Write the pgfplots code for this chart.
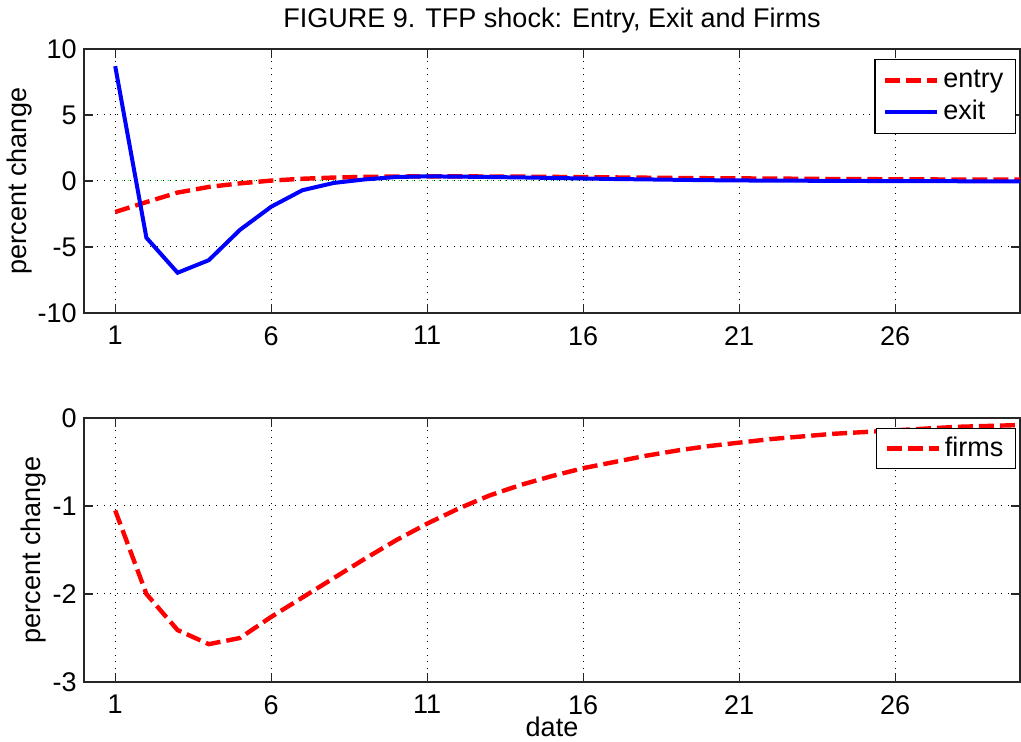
\documentclass[border=0pt]{standalone}
\usepackage{pgfplots}
\pgfplotsset{compat=1.18}
\usepackage{fontspec}
\setmainfont{Liberation Sans}
\definecolor{mred}{RGB}{255,0,0}
\definecolor{mblue}{RGB}{0,0,255}
\definecolor{mgreen}{RGB}{0,255,0}
\newcommand{\fs}{\fontsize{13.5}{16}\selectfont}
\begin{document}
\fs
\begin{tikzpicture}
\path[use as bounding box] (0,0) rectangle (510.5pt,371pt);
\pgfplotsset{
    every axis/.append style={
        width=468pt, height=132pt, scale only axis,
        xmin=0, xmax=30, xtick={1,6,...,26},
        tick align=inside, tick pos=both, major tick length=4.5pt,
        axis line style={black!85, line width=0.6pt},
        every tick/.style={black!85, line width=0.6pt},
        grid=major,
        major grid style={black, line width=0.5pt, dash pattern=on 0.5pt off 2.8pt},
        /pgf/number format/assume math mode=true,
        tick label style={font=\fs},
        xticklabel style={yshift=-2pt},
        yticklabel style={xshift=1pt},
        label style={font=\fs},
        legend cell align=left,
    },
    entry/.style={mred, line width=2.2pt, dash pattern=on 7.5pt off 3pt},
    exitl/.style={mblue, line width=2pt},
}

% top panel: entry and exit
\begin{axis}[
        at={(42pt,214.5pt)}, anchor=south west,
        ymin=-10, ymax=10, ytick={-10,-5,0,5,10},
        ylabel=percent change,
        ylabel style={at={(axis description cs:-0.045,0.5)}, anchor=south},
        title=FIGURE 9. TFP shock: Entry{,} Exit and Firms,
        title style={at={(0.5,1)}, anchor=base, yshift=4.5pt, font=\fs},
        legend style={at={(0.9957,0.962)}, anchor=north east, draw=black, line width=0.6pt,
            font=\fs, row sep=0.5pt, inner xsep=4pt, inner ysep=3pt},
        legend image code/.code={\draw[#1] (0pt,0pt) -- (26pt,0pt);},
    ]
    \addplot[mgreen, line width=0.5pt, dash pattern=on 0.5pt off 2.8pt, forget plot]
        coordinates {(1,0) (30,0)};
    \addplot[entry] coordinates {
        (1,-2.35) (2,-1.6) (3,-0.88) (4,-0.45) (5,-0.18) (6,0.03) (7,0.17)
        (8,0.26) (9,0.31) (10,0.34) (11,0.35) (12,0.35) (13,0.34) (14,0.33)
        (15,0.31) (16,0.29) (17,0.27) (18,0.25) (19,0.23) (20,0.21) (21,0.2)
        (22,0.18) (23,0.17) (24,0.15) (25,0.14) (26,0.13) (27,0.12) (28,0.11)
        (29,0.1) (30,0.1)
    };
    \addlegendentry{entry}
    \addplot[exitl] coordinates {
        (1,8.7) (2,-4.3) (3,-6.95) (4,-6.0) (5,-3.7) (6,-1.95) (7,-0.7)
        (8,-0.15) (9,0.12) (10,0.3) (11,0.35) (12,0.33) (13,0.3) (14,0.27)
        (15,0.23) (16,0.19) (17,0.15) (18,0.12) (19,0.09) (20,0.06) (21,0.04)
        (22,0.03) (23,0.02) (24,0.01) (25,0.0) (26,-0.01) (27,-0.01) (28,-0.02)
        (29,-0.02) (30,-0.02)
    };
    \addlegendentry{exit}
\end{axis}

% bottom panel: number of firms
\begin{axis}[
        at={(42pt,30pt)}, anchor=south west,
        ymin=-3, ymax=0, ytick={-3,-2,-1,0},
        ylabel=percent change, xlabel=date,
        ylabel style={at={(axis description cs:-0.03,0.5)}, anchor=south},
        xlabel style={yshift=4.5pt, inner sep=1pt},
        legend style={at={(0.9957,0.962)}, anchor=north east, draw=black, line width=0.6pt,
            font=\fs, inner xsep=4pt, inner ysep=2pt},
        legend image code/.code={\draw[#1] (0pt,0pt) -- (26pt,0pt);},
    ]
    \addplot[entry] coordinates {
        (1,-1.05) (2,-2.0) (3,-2.41) (4,-2.57) (5,-2.5) (6,-2.26) (7,-2.04)
        (8,-1.82) (9,-1.6) (10,-1.39) (11,-1.2) (12,-1.03) (13,-0.88) (14,-0.76)
        (15,-0.66) (16,-0.57) (17,-0.5) (18,-0.43) (19,-0.37) (20,-0.32) (21,-0.28)
        (22,-0.24) (23,-0.21) (24,-0.18) (25,-0.16) (26,-0.14) (27,-0.12) (28,-0.1)
        (29,-0.09) (30,-0.08)
    };
    \addlegendentry{firms}
\end{axis}
\end{tikzpicture}
\end{document}
